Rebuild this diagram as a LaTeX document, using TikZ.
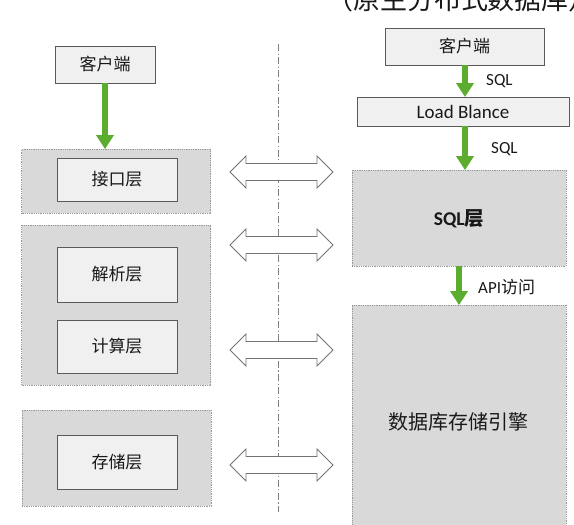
\documentclass[tikz,border=0pt]{standalone}
\usepackage{fontspec}
\setmainfont{Carlito}
\newfontfamily\cjk{Noto Sans CJK SC}
\usetikzlibrary{arrows.meta,calc}
\definecolor{ggreen}{RGB}{92,172,48}
\definecolor{panelgray}{RGB}{217,217,217}
\definecolor{boxgray}{RGB}{240,240,240}
\definecolor{edgegray}{RGB}{90,90,90}
\tikzset{
  innerbox/.style={draw=edgegray, line width=0.9pt, fill=boxgray, inner sep=0pt, font=\cjk\fontsize{17}{20}\selectfont, text=black!90},
  panel/.style={draw=gray!80, densely dotted, line width=0.8pt, fill=panelgray, inner sep=0pt},
  garrow/.style={draw=ggreen, line width=5.5pt, -{Triangle[length=14pt,width=17pt]}, shorten >=-0.5pt},
  hollow/.style={draw=gray!90!black, line width=0.8pt, fill=white, line join=miter},
  lbl/.style={font=\fontsize{17}{19}\selectfont, anchor=west, inner sep=0pt, text=black!90},
  divider/.style={draw=gray, line width=0.8pt, dash pattern=on 7pt off 2.5pt on 1.2pt off 2.5pt}
}
\newcommand{\dblarrowat}[1]{%
  \path[hollow] (230,#1) -- (246,#1-16) -- (246,#1-8.5) -- (317,#1-8.5) -- (317,#1-16)
    -- (333,#1) -- (317,#1+16) -- (317,#1+8.5) -- (246,#1+8.5) -- (246,#1+16) -- cycle;}
\begin{document}
\begin{tikzpicture}[x=1pt,y=-1pt]
\useasboundingbox (0,0) rectangle (574,525);
\clip (0,0) rectangle (574,525);

% title (cut off at top in the reference)
\node[font=\cjk\fontsize{27}{30}\selectfont, text=black!90, anchor=base] (title) at (461,9) {（原生分布式数据库）};

% divider
\coordinate (dtop) at (278,44);
\coordinate (dbot) at (278,512);
\draw[divider] (dtop) -- (dbot);

% left column
\node[innerbox, minimum width=100pt, minimum height=37pt] (lc) at (105,64.5) {客户端};
\node[panel, minimum width=189pt, minimum height=64pt] (p1) at (116,181) {};
\node[innerbox, minimum width=120pt, minimum height=43pt] (jk) at (117,179.5) {接口层};
\node[panel, minimum width=189pt, minimum height=160pt] (p2) at (116,305) {};
\node[innerbox, minimum width=120pt, minimum height=55pt] (jx) at (117,274.5) {解析层};
\node[innerbox, minimum width=120pt, minimum height=53pt] (js) at (117,346.5) {计算层};
\node[panel, minimum width=189pt, minimum height=96pt] (p3) at (116.5,458) {};
\node[innerbox, minimum width=120pt, minimum height=54pt] (cc) at (117,462) {存储层};

\draw[garrow] (lc.south) -- (lc.south |- p1.north);

% right column
\node[innerbox, minimum width=159pt, minimum height=37pt] (rc) at (464.5,46.5) {客户端};
\node[innerbox, minimum width=212pt, minimum height=29pt, font=\fontsize{19}{22}\selectfont] (lb) at (463,111.5) {Load Blance};
\node[panel, minimum width=214pt, minimum height=96pt] (sqlp) at (459,218) {};
\node[font=\fontsize{19.5}{22}\selectfont, text=black!90] (sqlt) at (459,219) {\textbf{SQL}{\cjk\bfseries 层}};
\node[panel, minimum width=214pt, minimum height=230pt] (eng) at (459,420) {};
\node[font=\cjk\fontsize{20}{22}\selectfont, text=black!90] (engt) at (458,422) {数据库存储引擎};

\draw[garrow] ($(rc.south)+(0.5,0)$) -- ($(rc.south |- lb.north)+(0.5,0)$);
\draw[garrow] ($(lb.south)+(2,0)$) -- ($(lb.south |- sqlp.north)+(2,0)$);
\draw[garrow] (sqlp.south) -- (sqlp.south |- eng.north);

\node[lbl] (l1) at (486,81) {SQL};
\node[lbl] (l2) at (491,149) {SQL};
\node[lbl] (l3) at (478,287) {API{\cjk 访问}};

% hollow double arrows
\dblarrowat{172}
\dblarrowat{245}
\dblarrowat{350}
\dblarrowat{465}
\end{tikzpicture}
\end{document}
